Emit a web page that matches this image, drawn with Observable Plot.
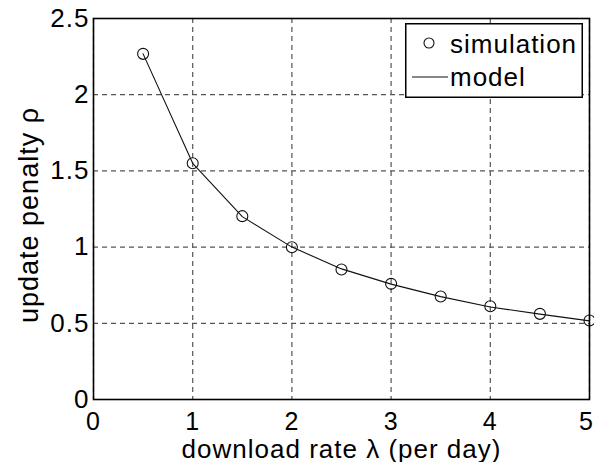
<!DOCTYPE html>
<html>
<head>
<meta charset="utf-8">
<script src="https://cdn.jsdelivr.net/npm/d3@7"></script>
<script src="https://cdn.jsdelivr.net/npm/@observablehq/plot@0.6"></script>
<style>
  html, body { margin: 0; padding: 0; background: #fff; }
  #wrap { position: relative; width: 594px; height: 462px; }
  #legend { position: absolute; left: 405px; top: 23px; }
</style>
</head>
<body>
<div id="wrap"></div>
<script>
// Data
const rates = [0.5, 1, 1.5, 2, 2.5, 3, 3.5, 4, 4.5, 5];
const simulation = [2.268, 1.55, 1.203, 0.999, 0.853, 0.759, 0.676, 0.612, 0.562, 0.518];
const model = [2.268, 1.55, 1.200, 1.000, 0.857, 0.757, 0.675, 0.607, 0.560, 0.516];
const xTicks = [0, 1, 2, 3, 4, 5];
const yTicks = [0, 0.5, 1, 1.5, 2, 2.5];
const xLabel = "download rate \u03bb (per day)";
const yLabel = "update penalty \u03c1";
const legendLabels = ["simulation", "model"];

const simData = rates.map((x, i) => ({x, y: simulation[i]}));
const modelData = rates.map((x, i) => ({x, y: model[i]}));
const xTicksInner = xTicks.slice(0, -1);
const xTickLast = xTicks.slice(-1);

const font = "'Liberation Sans', Arial, Helvetica, sans-serif";

const chart = Plot.plot({
  width: 594,
  height: 462,
  marginLeft: 93,
  marginRight: 5,
  marginTop: 18,
  marginBottom: 63,
  style: {fontFamily: font, fontSize: "26px", letterSpacing: "1px", color: "#000", background: "#fff", overflow: "visible"},
  x: {domain: [0, 5], ticks: xTicks},
  y: {domain: [0, 2.5], ticks: yTicks},
  marks: [
    Plot.gridX(xTicks, {stroke: "#555", strokeOpacity: 1, strokeWidth: 1.2, strokeDasharray: "5,4"}),
    Plot.gridY(yTicks, {stroke: "#555", strokeOpacity: 1, strokeWidth: 1.2, strokeDasharray: "5,4"}),
    Plot.axisX(xTicksInner, {tickSize: 0, tickPadding: 13, tickFormat: d => String(d), label: null, fontSize: 25}),
    Plot.axisX(xTickLast, {tickSize: 0, tickPadding: 13, tickFormat: d => String(d), label: null, fontSize: 25, dx: -3}),
    Plot.axisY(yTicks, {tickSize: 0, tickPadding: 4, tickFormat: d => String(d), label: null, fontSize: 26}),
    Plot.line(modelData, {x: "x", y: "y", stroke: "#111", strokeWidth: 1.1}),
    Plot.dot(simData, {x: "x", y: "y", r: 5.5, stroke: "#111", strokeWidth: 1.1, fill: "none"}),
    Plot.frame({stroke: "#000", strokeWidth: 1.6}),
    Plot.text([xLabel], {text: d => d, frameAnchor: "bottom", lineAnchor: "bottom", dy: 58, fontSize: 26, fill: "#000"}),
    Plot.text([yLabel], {text: d => d, frameAnchor: "left", rotate: -90, lineAnchor: "middle", textAnchor: "middle", dx: -64, dy: 6, fontSize: 27, fill: "#000"})
  ]
});
document.getElementById("wrap").appendChild(chart);

// Legend (overlay box)
const legend = document.createElement("div");
legend.id = "legend";
legend.innerHTML = `
<svg width="178" height="75" xmlns="http://www.w3.org/2000/svg" style="font-family:${font};font-size:26px;letter-spacing:1px">
  <rect x="0.75" y="0.75" width="176.5" height="73.5" fill="#fff" stroke="#000" stroke-width="1.5"/>
  <circle cx="24" cy="20" r="5" fill="none" stroke="#111" stroke-width="1.1"/>
  <text x="45" y="30" fill="#000">${legendLabels[0]}</text>
  <line x1="7" y1="54" x2="43" y2="54" stroke="#111" stroke-width="1.1"/>
  <text x="45" y="63" fill="#000">${legendLabels[1]}</text>
</svg>`;
document.getElementById("wrap").appendChild(legend);
</script>
</body>
</html>
